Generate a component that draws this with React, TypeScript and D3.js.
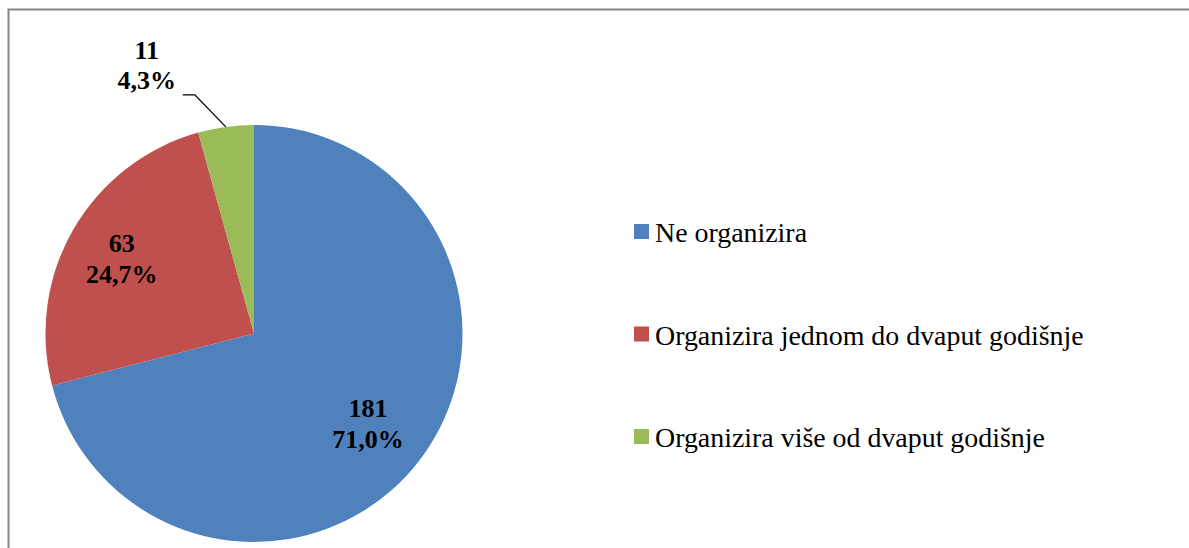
import React from "react";
import * as d3 from "d3";

const categories = [
  "Ne organizira",
  "Organizira jednom do dvaput godišnje",
  "Organizira više od dvaput godišnje",
];
const counts = [181, 63, 11];
const percentLabels = ["71,0%", "24,7%", "4,3%"];
const colors = ["#4F81BD", "#C0504D", "#9BBB59"];

const W = 1189;
const H = 548;

export default function App() {
  const cx = 254;
  const cy = 333.5;
  const r = 208.5;

  const pie = d3
    .pie<number>()
    .sort(null)
    .value((d) => d);
  const arcs = pie(counts);
  const arcGen = d3.arc<d3.PieArcDatum<number>>().innerRadius(0).outerRadius(r);
  const labelArc = d3
    .arc<d3.PieArcDatum<number>>()
    .innerRadius(r * 0.71)
    .outerRadius(r * 0.71);

  const font = "'Liberation Serif', 'DejaVu Serif', 'Times New Roman', serif";
  const boldStyle = { fontFamily: font, fontWeight: 700, fontSize: "26px" } as React.CSSProperties;
  const legStyle = { fontFamily: font, fontSize: "27.9px" } as React.CSSProperties;

  const legendY = d3.scalePoint<number>().domain([0, 1, 2]).range([232, 437]);

  return (
    <svg
      width={W}
      height={H}
      style={{ position: "absolute", left: 0, top: 0, background: "#fff" }}
    >
      <rect x={8.5} y={9.5} width={1300} height={700} fill="#fff" stroke="#868686" strokeWidth={2} />
      <g transform={`translate(${cx},${cy})`}>
        {arcs.map((a, i) => (
          <path key={i} d={arcGen(a) || ""} fill={colors[i]} />
        ))}
        {arcs.map((a, i) => {
          if (i === 2) {
            const mid = (a.startAngle + a.endAngle) / 2;
            const px = Math.sin(mid) * r;
            const py = -Math.cos(mid) * r;
            const ex = px - 31;
            const ey = py - 32;
            const endX = ex - 12;
            const lx = endX - 36;
            return (
              <g key={i}>
                <polyline
                  points={`${px},${py} ${ex},${ey} ${endX},${ey}`}
                  fill="none"
                  stroke="#000"
                  strokeWidth={1.3}
                />
                <text x={lx} y={ey - 36} textAnchor="middle" style={boldStyle}>
                  {counts[i]}
                </text>
                <text x={lx} y={ey - 5.5} textAnchor="middle" style={boldStyle}>
                  {percentLabels[i]}
                </text>
              </g>
            );
          }
          const [lx, ly] = labelArc.centroid(a);
          const shift = i === 1 ? -4 : -3;
          return (
            <g key={i}>
              <text x={lx + shift} y={ly - 7} textAnchor="middle" style={boldStyle}>
                {counts[i]}
              </text>
              <text x={lx + shift} y={ly + 23.5} textAnchor="middle" style={boldStyle}>
                {percentLabels[i]}
              </text>
            </g>
          );
        })}
      </g>
      {categories.map((c, i) => (
        <g key={c} transform={`translate(634,${legendY(i)})`}>
          <rect x={0} y={-8} width={15} height={15} fill={colors[i]} />
          <text x={21} y={10} fill="#000" style={legStyle}>
            {c}
          </text>
        </g>
      ))}
    </svg>
  );
}
